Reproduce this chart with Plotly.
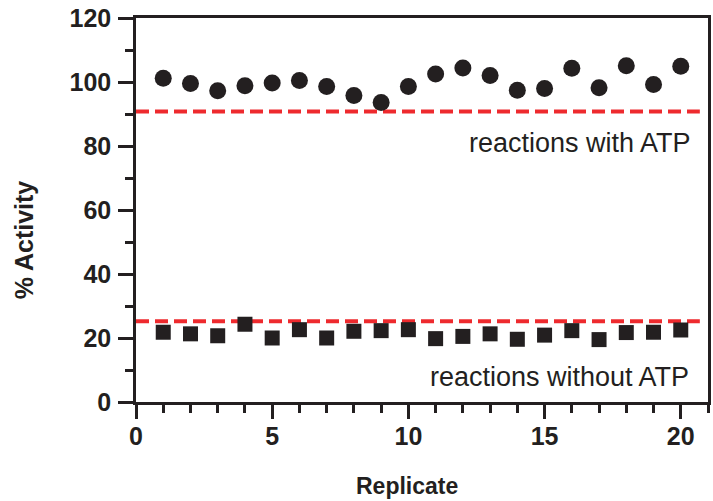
import plotly.graph_objects as go

replicates = list(range(1, 21))
with_atp = [101.2, 99.5, 97.3, 98.8, 99.7, 100.5, 98.6, 95.8, 93.6, 98.6,
            102.5, 104.4, 102.0, 97.4, 98.0, 104.3, 98.2, 105.1, 99.2, 104.9]
without_atp = [21.8, 21.3, 20.7, 24.3, 20.0, 22.6, 20.0, 22.1, 22.3, 22.6,
               19.8, 20.5, 21.3, 19.6, 20.9, 22.3, 19.5, 21.7, 21.8, 22.5]
threshold_with = 90.8
threshold_without = 25.2
threshold_x = [0, 20.7]

ink = "#231f20"
red = "#ee2a2e"
font = "Liberation Sans, Arial, Helvetica, sans-serif"

# plot area in page: x 136..711, y 18..402 (body margin removed by post_script)
W, H = 713, 501
ML, MR, MT, MB = 136, 2, 18, 99
PW, PH = W - ML - MR, H - MT - MB

fig = go.Figure()
fig.add_trace(go.Scatter(x=threshold_x, y=[threshold_with] * 2, mode="lines",
                         line=dict(color=red, width=4, dash="13px,6px"), hoverinfo="skip"))
fig.add_trace(go.Scatter(x=threshold_x, y=[threshold_without] * 2, mode="lines",
                         line=dict(color=red, width=4, dash="13px,6px"), hoverinfo="skip"))
fig.add_trace(go.Scatter(x=replicates, y=with_atp, mode="markers",
                         marker=dict(symbol="circle", size=17, color=ink)))
fig.add_trace(go.Scatter(x=replicates, y=without_atp, mode="markers",
                         marker=dict(symbol="square", size=15, color=ink)))

fig.add_annotation(x=20.45, y=81, text="reactions with ATP", showarrow=False,
                   xanchor="right", yanchor="middle",
                   font=dict(family=font, size=27, color=ink))
fig.add_annotation(x=20.38, y=7.7, text="reactions without ATP", showarrow=False,
                   xanchor="right", yanchor="middle",
                   font=dict(family=font, size=27, color=ink))
fig.add_annotation(xref="paper", yref="paper", x=(408.5 - ML) / PW, y=-(486 - 402.3) / PH,
                   text="<b>Replicate</b>", showarrow=False, xanchor="center", yanchor="middle",
                   font=dict(family=font, size=23, color=ink))
fig.add_annotation(xref="paper", yref="paper", x=-(ML - 23) / PW, y=(402.3 - 240) / PH,
                   text="<b>% Activity</b>", showarrow=False, textangle=-90,
                   xanchor="center", yanchor="middle",
                   font=dict(family=font, size=25, color=ink))

axis_common = dict(showgrid=False, zeroline=False, showline=True, linecolor=ink,
                   linewidth=2.5, mirror=True, ticks="outside", tickcolor=ink,
                   tickwidth=2.5,
                   tickfont=dict(family=font, size=25, color=ink))

fig.update_xaxes(range=[0, 21], tickvals=[0, 5, 10, 15, 20], ticklen=14,
                 ticklabelstandoff=-4,
                 ticktext=["<b>0</b>", "<b>5</b>", "<b>10</b>", "<b>15</b>", "<b>20</b>"],
                 minor=dict(dtick=1, tick0=0, ticks="outside", ticklen=8, tickwidth=2.5, tickcolor=ink),
                 **axis_common)
fig.update_yaxes(range=[0, 120], tickvals=[0, 20, 40, 60, 80, 100, 120], ticklen=15,
                 ticklabelstandoff=2,
                 ticktext=[f"<b>{v}</b>" for v in [0, 20, 40, 60, 80, 100, 120]],
                 minor=dict(dtick=10, tick0=0, ticks="outside", ticklen=8, tickwidth=2.5, tickcolor=ink),
                 **axis_common)

fig.update_layout(width=W, height=H, showlegend=False,
                  plot_bgcolor="white", paper_bgcolor="white",
                  margin=dict(l=ML, r=MR, t=MT, b=MB))

fig.write_html("out.html", config={"displayModeBar": False},
               post_script="document.body.style.margin='0';document.body.style.overflow='hidden';")
